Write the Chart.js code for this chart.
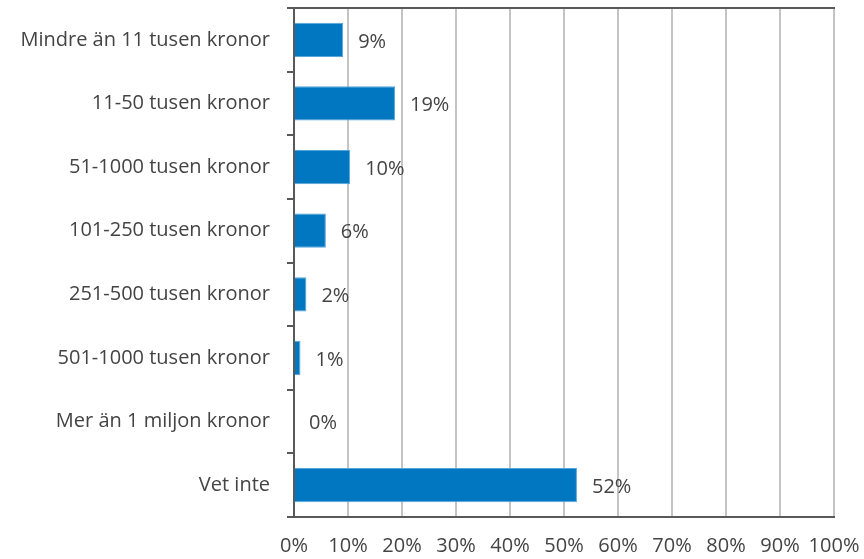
<!DOCTYPE html>
<html>
<head>
    <meta charset="UTF-8">
    <title>Belopp</title>
    <script src="https://cdn.jsdelivr.net/npm/chart.js@4/dist/chart.umd.min.js"></script>
    <style>
        html, body { margin: 0; padding: 0; background: #fff; }
        #wrap { width: 864px; height: 559px; }
    </style>
</head>
<body>
    <div id="wrap"><canvas id="chart"></canvas></div>

    <script>
        const categories = [
            'Mindre än 11 tusen kronor',
            '11-50 tusen kronor',
            '51-1000 tusen kronor',
            '101-250 tusen kronor',
            '251-500 tusen kronor',
            '501-1000 tusen kronor',
            'Mer än 1 miljon kronor',
            'Vet inte'
        ];
        const shares = [9.1, 18.7, 10.4, 5.9, 2.3, 1.2, 0, 52.4];
        const xTicks = [0, 10, 20, 30, 40, 50, 60, 70, 80, 90, 100];

        const textColor = '#444444';
        const fontFamily = '"Open Sans", sans-serif';
        const fontSize = 20;

        // value labels to the right of each bar
        const barLabels = {
            id: 'barLabels',
            afterDatasetsDraw(chart) {
                const ctx = chart.ctx;
                const meta = chart.getDatasetMeta(0);
                ctx.save();
                ctx.font = fontSize + 'px ' + fontFamily;
                ctx.fillStyle = textColor;
                ctx.textAlign = 'left';
                ctx.textBaseline = 'middle';
                meta.data.forEach((bar, i) => {
                    ctx.fillText(Math.round(shares[i]) + '%', bar.x + 15, bar.y + 2);
                });
                ctx.restore();
            }
        };

        new Chart(document.getElementById('chart'), {
            type: 'bar',
            data: {
                labels: categories,
                datasets: [{
                    data: shares,
                    backgroundColor: '#0077c0',
                    borderColor: '#55a6dc',
                    borderWidth: 1,
                    borderSkipped: 'left',
                    barPercentage: 0.54,
                    categoryPercentage: 1
                }]
            },
            options: {
                indexAxis: 'y',
                responsive: true,
                maintainAspectRatio: false,
                animation: false,
                layout: { padding: { top: 8, right: 30, left: 0, bottom: 0 } },
                plugins: {
                    legend: { display: false },
                    tooltip: { enabled: false }
                },
                scales: {
                    x: {
                        min: 0,
                        max: 100,
                        afterBuildTicks(scale) {
                            scale.ticks = xTicks.map(v => ({ value: v }));
                        },
                        afterFit(scale) {
                            scale.height = 42;
                            scale.paddingLeft = 0;
                            scale.paddingRight = 0;
                        },
                        grid: { color: '#c4c4c4', lineWidth: 2, drawTicks: false },
                        border: { display: true, color: '#595959', width: 2 },
                        ticks: {
                            color: textColor,
                            padding: 17,
                            autoSkip: false,
                            maxRotation: 0,
                            minRotation: 0,
                            font: { family: fontFamily, size: fontSize },
                            callback: v => v + '%'
                        }
                    },
                    x2: {
                        type: 'linear',
                        position: 'top',
                        min: 0,
                        max: 100,
                        afterFit(scale) {
                            scale.height = 0;
                            scale.paddingLeft = 0;
                            scale.paddingRight = 0;
                        },
                        grid: { drawOnChartArea: false, drawTicks: false },
                        border: { display: true, color: '#595959', width: 2 },
                        ticks: { display: false }
                    },
                    y: {
                        afterFit(scale) {
                            scale.width = 294;
                            scale.paddingTop = 0;
                            scale.paddingBottom = 0;
                        },
                        grid: {
                            offset: true,
                            drawOnChartArea: false,
                            drawTicks: true,
                            tickLength: 7,
                            color: '#595959',
                            lineWidth: 2
                        },
                        border: { display: true, color: '#595959', width: 2 },
                        ticks: {
                            color: textColor,
                            padding: 17,
                            font: { family: fontFamily, size: fontSize }
                        }
                    }
                }
            },
            plugins: [barLabels]
        });
    </script>
</body>
</html>
